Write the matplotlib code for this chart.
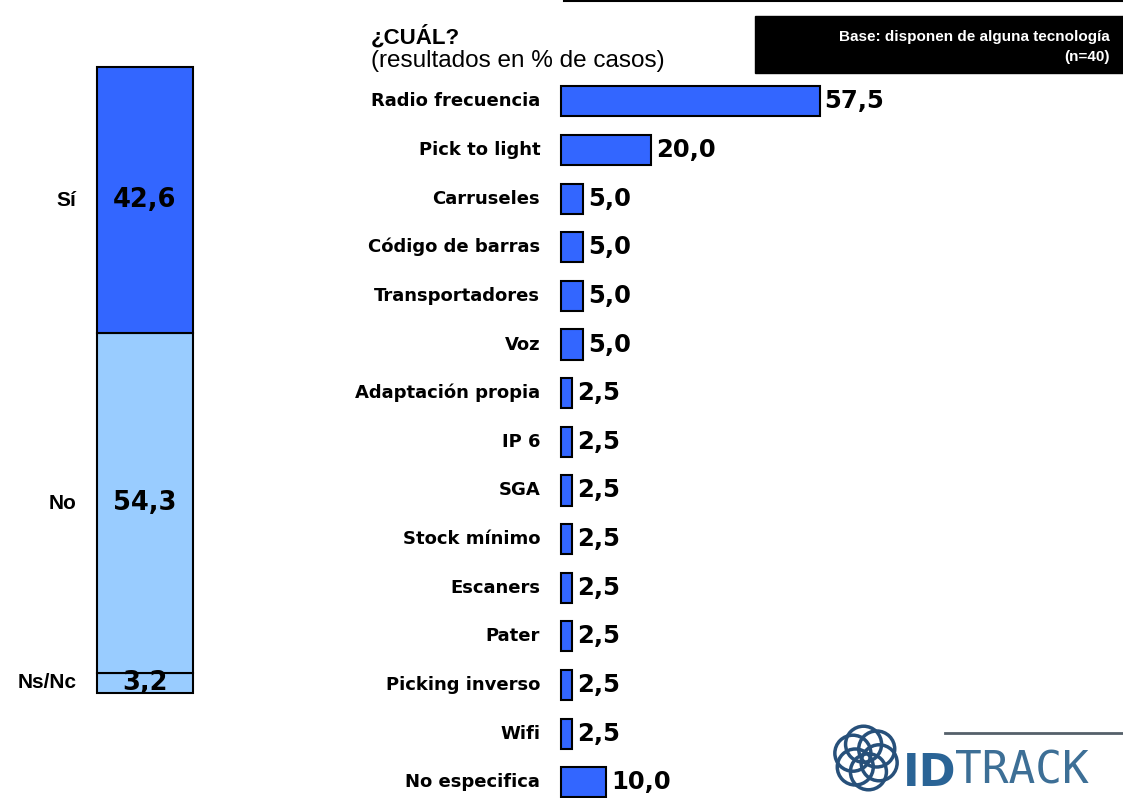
import math
import matplotlib.pyplot as plt
from matplotlib.patches import Rectangle, Circle

# left stacked bar: do they have some technology?
resp_labels = ["Sí", "No", "Ns/Nc"]
resp_values = [42.6, 54.3, 3.2]
resp_colors = ["#3366FF", "#99CCFF", "#99CCFF"]

# right bars: which technology
tech_labels = ["Radio frecuencia", "Pick to light", "Carruseles", "Código de barras",
               "Transportadores", "Voz", "Adaptación propia", "IP 6", "SGA",
               "Stock mínimo", "Escaners", "Pater", "Picking inverso", "Wifi",
               "No especifica"]
tech_values = [57.5, 20.0, 5.0, 5.0, 5.0, 5.0, 2.5, 2.5, 2.5, 2.5, 2.5, 2.5, 2.5, 2.5, 10.0]

W, H = 1123, 798
fig = plt.figure(figsize=(W / 100, H / 100), dpi=100)


def px_axes(x0, y0, x1, y1):
    # axes from pixel box (top-left origin)
    return fig.add_axes([x0 / W, 1 - y1 / H, (x1 - x0) / W, (y1 - y0) / H])


def fmt(v):
    return ("%.1f" % v).replace(".", ",")


# overlay for decorations, pixel coords
ov = fig.add_axes([0, 0, 1, 1], zorder=0)
ov.set_xlim(0, W)
ov.set_ylim(H, 0)
ov.axis("off")

# ---- left stacked bar ----
axl = px_axes(97, 67, 193, 693)
axl.set_zorder(2)
bottom = 0
stack = list(zip(resp_labels, resp_values, resp_colors))[::-1]
for lab, val, col in stack:
    axl.bar(0, val, bottom=bottom, width=1, color=col, edgecolor="black",
            linewidth=1.5, clip_on=False)
    axl.text(0, bottom + val / 2, fmt(val), ha="center", va="center",
             fontsize=18.5, fontweight="bold", family="DejaVu Sans")
    axl.annotate(lab, xy=(-0.5, bottom + val / 2), xytext=(-15, 0), textcoords="offset points",
                 ha="right", va="center", fontsize=15, fontweight="bold",
                 family="Liberation Sans", annotation_clip=False)
    bottom += val
axl.set_xlim(-0.5, 0.5)
axl.set_ylim(0, bottom)
axl.axis("off")

# ---- right horizontal bars ----
row = 48.64
axr = px_axes(561, 77, 1123, 798)
axr.set_zorder(2)
ypos = list(range(len(tech_labels)))
axr.barh(ypos, tech_values, height=0.62, color="#3366FF", edgecolor="black",
         linewidth=1.5, clip_on=False)
for y, lab, val in zip(ypos, tech_labels, tech_values):
    axr.annotate(fmt(val), xy=(val, y), xytext=(3.5, 0), textcoords="offset points",
                 ha="left", va="center", fontsize=17.5, fontweight="bold", family="DejaVu Sans")
    axr.annotate(lab, xy=(0, y), xytext=(-15, 0), textcoords="offset points",
                 ha="right", va="center", fontsize=13, fontweight="bold",
                 family="DejaVu Sans", annotation_clip=False)
axr.set_xlim(0, 125)
axr.set_ylim(-0.5 + (798 - 77) / row, -0.5)
axr.axis("off")

# ---- titles and base box ----
ov.plot([564, W], [1, 1], color="black", linewidth=1.5)
ov.text(371, 44, "¿CUÁL?", fontsize=16, fontweight="bold", family="Liberation Sans", va="baseline")
ov.text(371, 67, "(resultados en % de casos)", fontsize=17.5, family="Liberation Sans", va="baseline")
ov.add_patch(Rectangle((755, 16), W - 755, 57, color="black"))
ov.text(1110, 41, "Base: disponen de alguna tecnología", color="white", fontsize=11,
        fontweight="bold", family="Liberation Sans", ha="right", va="baseline")
ov.text(1110, 61, "(n=40)", color="white", fontsize=11,
        fontweight="bold", family="Liberation Sans", ha="right", va="baseline")

# ---- logo (rough) ----
logo = "#27507a"
cx, cy = 866, 758
for k in range(6):
    a = math.radians(60 * k + 20)
    ov.add_patch(Circle((cx + 14 * math.cos(a), cy + 14 * math.sin(a)), 18,
                        fill=False, edgecolor=logo, linewidth=2.5))
ov.text(903, 786, "ID", color="#2a6496", fontsize=32, fontweight="bold",
        family="DejaVu Sans", va="baseline")
ov.text(955, 784, "TRACK", color="#3d6f96", fontsize=32, family="DejaVu Sans Mono",
        va="baseline")
ov.plot([945, W], [733, 733], color="#55606a", linewidth=2)

fig.savefig("out.png", dpi=100)
